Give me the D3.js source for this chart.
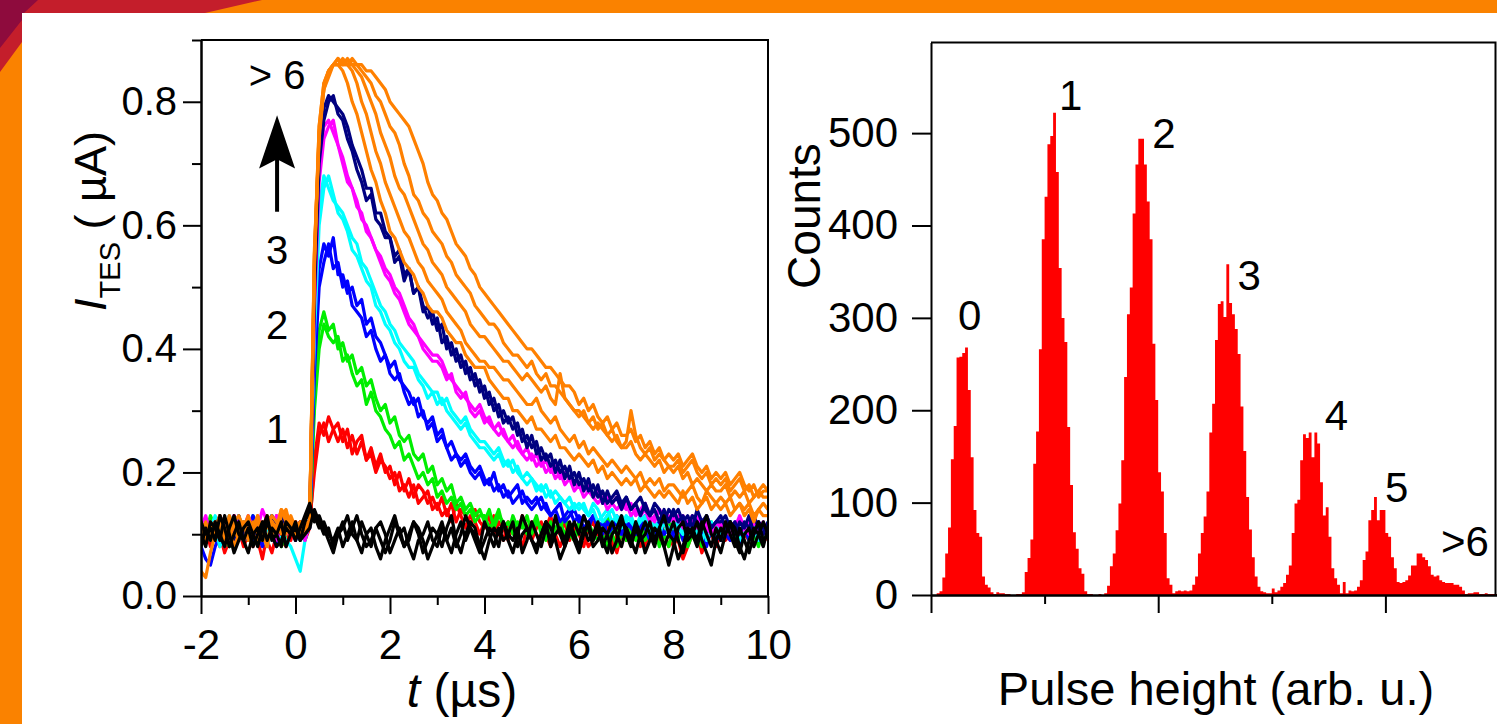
<!DOCTYPE html>
<html>
<head>
<meta charset="utf-8">
<script src="https://cdn.jsdelivr.net/npm/d3@7"></script>
<style>
body { margin: 0; overflow: hidden; background: #fa8200; }
svg { display: block; font-family: "Liberation Sans", Arial, sans-serif; }
</style>
</head>
<body>
<svg id="fig" width="1497" height="724"></svg>
<script>

// ---- left panel: TES current traces, values in 0.01 uA, sampled every 0.1 us from -2 us
var t0 = -2, dt = 0.1;

var traceRed = [
  [9,11,8,12,10,7,9,13,11,8, 10,12,9,6,10,11,13,9,8,11, 10,12,9,11,22,28,26,29,27,25,
   27,24,26,23,25,22,24,21,23,20, 21,18,20,17,19,16,18,17,15,16, 14,16,13,15,12,14,13,11,14,12,
   11,13,10,12,11,9,12,10,13,11, 9,11,12,10,8,11,10,12,9,11, 10,8,11,12,10,9,11,7,10,12,
   9,11,10,8,12,10,9,11,10,8, 11,9,6,8,10,12,9,11,10,8, 10,12,9,11,8,10,12,10,9,11, 10],
  [11,9,12,10,8,11,13,10,9,12, 10,8,11,12,9,7,10,12,11,9, 12,10,11,12,20,26,28,25,27,28,
   25,27,23,25,26,22,23,20,22,21, 19,20,17,18,16,18,15,16,17,14, 15,13,14,12,15,13,11,13,12,10,
   12,11,13,10,9,12,11,10,8,11, 12,10,9,11,13,10,8,10,11,9, 12,10,8,9,11,10,12,9,7,10,
   11,9,12,10,8,11,10,9,12,10, 8,10,11,9,12,10,7,9,11,10, 12,9,10,11,8,10,9,12,10,11, 9]
];

var traceGreen = [
  [10,12,9,11,13,10,8,11,12,9, 11,13,10,9,12,10,11,8,10,12, 11,9,12,11,33,43,46,43,44,40,
   41,38,39,36,37,34,35,32,30,31, 28,29,26,25,26,23,22,23,20,21, 18,19,17,18,15,16,14,15,13,14,
   12,14,11,13,12,10,13,11,12,10, 11,13,10,12,9,11,12,10,11,9, 12,10,11,9,12,10,8,11,10,12,
   9,11,10,12,9,10,11,8,10,12, 10,9,11,8,10,12,11,9,10,11, 9,12,10,11,9,10,12,10,8,11, 10],
  [12,10,13,11,9,12,10,11,13,10, 9,11,12,10,13,11,9,10,12,11, 10,12,11,12,30,40,44,42,41,42,
   38,39,36,34,35,31,33,30,29,27, 26,24,25,22,23,21,19,20,18,19, 16,17,15,16,14,15,13,14,12,13,
   13,11,12,14,11,12,10,12,11,13, 10,12,11,9,12,10,11,13,10,9, 11,10,12,10,9,11,13,10,8,10,
   12,10,9,11,10,12,9,11,10,8, 11,12,10,9,11,10,8,10,12,9, 11,10,12,9,10,11,9,12,10,9, 11]
];

var traceBlue = [
  [8,6,5,8,10,12,9,11,13,10, 9,12,10,8,11,13,10,9,12,11, 10,12,9,12,40,53,57,55,58,52,
   52,49,50,47,48,44,45,42,41,39, 37,38,35,34,33,31,32,29,28,29, 26,27,24,25,23,22,23,21,20,21,
   19,18,20,17,18,16,17,18,15,16, 15,16,14,15,13,14,15,12,13,14, 12,13,11,13,12,10,12,11,13,10,
   11,12,10,11,13,10,9,12,10,11, 10,12,9,11,10,12,10,8,11,10, 9,11,12,10,8,11,10,12,9,11, 10],
  [11,10,12,9,11,8,10,12,9,11, 10,13,11,9,12,10,8,11,10,12, 9,11,12,11,36,50,54,57,53,54,
   50,51,47,46,45,42,43,40,38,39, 36,35,36,33,31,32,29,30,27,28, 25,26,24,22,23,21,22,20,19,20,
   18,19,17,18,16,17,15,16,17,15, 14,15,16,14,13,14,12,13,14,12, 13,11,12,13,11,12,10,11,12,10,
   12,11,10,12,11,9,11,12,10,11, 9,11,12,10,11,9,12,10,11,9, 11,10,9,12,10,11,9,10,12,11, 10]
];

var traceCyan = [
  [10,12,9,11,8,10,13,11,9,12, 11,9,12,10,8,11,12,10,9,8, 6,4,9,12,46,63,68,66,64,63,
   62,60,58,57,54,53,51,49,47,46, 44,43,41,40,39,38,36,35,34,33, 33,31,32,30,29,28,29,27,26,25,
   25,24,23,24,22,21,22,20,19,20, 19,18,17,18,16,17,16,15,16,14, 15,14,13,15,14,12,13,14,12,13,
   12,13,11,12,13,11,12,10,12,11, 11,12,10,11,12,10,9,11,12,10, 11,10,12,9,11,10,12,11,9,10, 11],
  [12,9,11,13,10,9,11,8,10,12, 10,11,9,12,10,13,11,9,10,12, 11,9,10,12,42,60,66,68,65,62,
   61,59,56,55,53,51,50,47,46,44, 43,41,40,38,37,37,35,34,32,33, 31,32,30,29,28,27,28,26,25,24,
   24,23,22,23,21,22,20,21,19,18, 19,17,18,16,17,15,16,15,14,15, 14,15,13,14,12,13,14,12,13,11,
   13,12,11,13,12,10,12,11,12,10, 12,11,10,12,11,10,12,9,11,12, 10,11,12,10,9,11,12,10,11,10, 12]
];

var traceMagenta = [
  [11,13,10,12,9,11,10,13,11,9, 12,10,11,14,12,10,9,11,12,10, 12,11,9,12,50,70,76,77,75,73,
   71,68,66,64,61,60,58,56,55,53, 52,50,49,47,45,44,42,41,40,39, 39,38,36,35,34,33,32,31,30,31,
   29,28,27,28,26,25,26,24,23,24, 22,23,21,22,20,21,19,20,19,18, 18,17,18,16,17,15,16,15,14,15,
   14,15,13,14,15,13,12,14,13,12, 13,12,13,11,12,13,11,12,10,12, 11,12,10,11,13,11,10,12,11,10, 11],
  [10,12,11,9,13,11,12,10,9,11, 13,11,10,12,9,11,13,12,10,11, 10,12,11,12,46,67,74,76,77,73,
   70,67,66,63,62,59,58,56,54,52, 51,49,48,46,44,43,42,40,39,38, 38,37,35,36,33,32,33,30,29,30,
   28,29,27,26,27,25,24,25,23,22, 23,21,22,20,21,19,20,18,19,17, 18,16,17,16,15,16,14,15,16,14,
   15,13,14,13,14,12,13,14,12,13, 12,13,11,12,13,11,12,11,10,12, 12,10,11,12,10,11,12,10,11,12, 10]
];

var traceNavy = [
  [9,11,10,12,10,8,11,12,10,9, 11,12,10,9,12,11,10,13,11,10, 11,10,12,12,52,73,79,81,80,79,
   78,76,73,71,69,66,66,62,62,59, 58,55,56,52,53,49,50,46,47,44, 45,41,42,39,40,37,38,35,36,33,
   34,31,32,29,30,28,29,26,27,24, 26,23,24,22,23,20,22,19,21,18, 20,17,19,16,18,15,17,15,16,14,
   16,14,15,13,15,13,14,12,14,12, 14,12,13,11,13,12,11,13,11,12, 13,11,12,10,12,11,13,10,12,11, 11],
  [12,10,9,11,13,10,12,9,11,10, 12,9,11,10,12,13,11,10,12,11, 9,12,10,11,48,70,77,80,81,78,
   77,74,72,69,67,64,65,61,60,58, 58,54,55,51,53,49,50,47,45,46, 43,44,40,41,38,39,36,37,34,35,
   32,33,30,31,28,29,27,28,25,26, 24,25,22,23,21,22,20,21,19,20, 18,19,17,18,16,17,15,16,17,15,
   16,14,15,16,14,13,15,14,12,14, 13,14,12,13,11,14,12,13,11,12, 12,13,11,12,10,12,11,13,11,10, 12]
];

var traceOrange = [
  [4,3,7,10,12,9,11,8,10,12, 9,11,13,10,8,12,11,14,13,10, 12,11,10,12,55,75,82,85,86,86,
   85,83,80,78,75,72,69,67,64,62, 59,58,56,54,53,52,50,49,47,46, 46,45,43,42,41,41,39,38,37,37,
   37,35,34,33,32,32,30,30,29,28, 29,27,27,26,25,26,24,24,23,22, 23,22,21,22,20,21,19,20,19,18,
   19,18,19,17,18,17,16,17,16,17, 16,15,17,15,16,14,15,16,14,15, 14,15,13,14,15,13,14,12,14,13, 13],
  [11,9,12,10,13,11,9,12,10,11, 13,10,12,11,9,12,10,13,14,11, 10,12,11,12,54,76,83,85,86,87,
   86,86,85,83,80,78,75,72,70,67, 65,63,61,59,58,56,54,53,51,50, 49,48,46,45,44,43,41,40,39,38,
   38,37,37,36,35,35,34,33,32,31, 31,32,30,29,28,29,27,26,25,26, 24,25,23,24,23,22,21,22,21,20,
   21,20,19,20,18,19,18,19,17,18, 18,17,16,17,18,16,15,17,16,15, 16,15,16,14,15,14,15,13,14,15, 14],
  [10,12,9,11,13,10,12,11,9,12, 10,11,13,9,12,10,11,12,10,13, 11,10,12,12,56,74,82,85,86,86,
   87,86,86,85,84,82,80,78,75,73, 71,68,66,65,63,61,59,57,56,54, 53,52,50,49,48,47,46,44,43,42,
   42,41,40,39,38,38,37,36,35,36, 35,34,33,34,32,31,36,32,31,30, 29,30,28,27,28,27,26,25,26,24,
   24,25,23,22,23,22,21,22,20,21, 20,21,19,20,18,19,18,17,18,17, 17,18,16,17,16,17,15,16,17,16, 16],
  [12,10,11,9,12,10,13,11,10,9, 11,12,10,12,11,13,12,10,11,12, 10,12,11,12,53,75,82,84,86,86,
   86,87,86,86,85,84,83,81,80,78, 76,75,73,70,68,65,64,62,61,59, 58,57,55,54,52,51,50,49,47,46,
   45,44,44,43,41,40,39,39,38,37, 38,36,35,36,34,34,33,32,31,30, 30,29,28,29,27,28,26,27,25,24,
   25,30,26,24,23,24,22,23,22,21, 21,22,20,21,22,20,19,20,18,19, 18,19,17,18,19,17,18,16,17,18, 17],
  [9,11,10,12,11,8,10,12,13,11, 12,10,9,11,13,12,11,14,12,10, 12,11,10,12,55,76,83,85,86,87,
   86,86,87,86,86,85,85,84,83,82, 80,79,78,77,76,74,72,70,67,65, 64,62,61,59,57,56,55,53,52,50,
   49,48,47,46,45,44,43,42,41,40, 40,39,38,37,37,36,35,34,34,33, 31,32,30,31,29,28,29,27,28,26,
   26,27,25,26,24,25,23,24,22,23, 22,23,21,22,23,21,20,21,19,20, 19,20,18,19,20,18,17,18,16,17, 17]
];

var traceBlack = [
  [10,8,12,11,9,13,10,7,9,11, 12,10,8,11,13,9,10,12,8,10, 11,9,12,14,13,11,12,10,9,11,
   8,10,12,9,7,10,11,8,6,9, 11,13,10,8,9,12,10,7,9,11, 10,8,11,13,9,7,10,12,11,8,
   6,9,11,10,12,9,7,10,13,11, 9,8,10,12,11,9,6,8,10,12, 10,13,11,8,9,11,10,7,9,12,
   11,9,7,10,12,10,8,11,13,10, 9,6,8,11,10,12,9,7,5,9, 11,10,12,9,7,10,11,8,10,12, 10],
  [12,10,11,9,13,11,8,10,12,9, 7,10,11,9,12,10,8,9,11,10, 12,9,10,11,14,12,10,11,8,10,
   12,9,11,13,10,8,9,11,12,10, 7,9,11,8,10,12,11,9,6,8, 10,12,9,11,8,10,13,11,9,7,
   9,11,10,8,12,10,9,11,7,9, 12,10,8,11,9,13,10,8,11,9, 7,10,12,9,11,8,10,12,10,8,
   11,9,12,10,7,9,11,10,8,5, 8,11,12,9,10,8,11,13,10,9, 7,10,12,11,8,6,9,11,10,8, 11],
  [8,11,9,12,10,8,11,13,10,9, 11,8,10,12,9,11,10,8,12,11, 9,11,13,15,12,13,11,9,7,10,
   11,13,10,9,12,10,8,11,9,7, 9,12,10,11,8,6,9,10,12,9, 8,11,9,7,10,12,9,11,10,8,
   12,10,8,11,9,10,12,8,10,11, 9,7,10,12,8,10,11,9,12,10, 8,11,9,10,12,9,7,10,11,13,
   10,8,11,9,10,12,9,11,8,10, 12,9,7,10,11,9,12,10,8,11, 9,12,10,8,11,9,7,10,12,9, 10]
];

var traceColors = ["#ff0000", "#00ee00", "#0000ff", "#00ffff", "#ff00ff", "#000080", "#ff8000", "#000000"];
var traceGroups = [traceRed, traceGreen, traceBlue, traceCyan, traceMagenta, traceNavy, traceOrange, traceBlack];

// ---- right panel: pulse-height histogram, bins of 0.025 arb. u. starting at 0
var binWidth = 0.025;
var counts = [
  0,0,2,4,19,45,73,147,183,257, 258,262,268,222,149,92,67,63,20,11,
  8,3,1,3,2,2,1,1,0,0, 1,1,3,25,40,60,142,177,266,385,
  431,488,497,522,458,354,300,274,182,119, 68,50,29,23,4,1,1,0,0,1,
  0,2,10,31,45,70,99,146,236,304, 333,413,466,494,494,466,426,385,272,211,
  133,112,67,18,11,2,4,5,4,5, 4,5,11,20,45,67,85,112,176,207,
  276,315,318,301,358,316,304,288,261,204, 156,106,71,41,20,9,4,3,2,2,
  7,3,5,9,13,22,32,67,99,103, 146,174,170,176,149,176,164,122,86,95,
  63,29,18,11,2,14,2,5,4,5, 9,16,38,47,81,92,106,81,92,92,
  67,63,41,29,14,13,14,16,21,32, 32,45,45,41,38,31,22,20,21,16,
  14,13,13,13,11,11,9,5,1,2, 2,3,3,1,1,2,1,1,1,1
];

var leftLabels = [["> 6", -0.39, 0.843], ["3", -0.39, 0.56], ["2", -0.39, 0.439], ["1", -0.39, 0.27]];
var peakLabels = [["0", 0.34, 303], ["1", 1.23, 541], ["2", 2.05, 500], ["3", 2.8, 346],
                  ["4", 3.57, 195], ["5", 4.1, 117], [">6", 4.7, 58]];

var svg = d3.select("#fig");

// background: orange with dark corner, white panel
svg.append("rect").attr("width", 1497).attr("height", 724).attr("fill", "#fa8200");
svg.append("polygon").attr("points", "0,0 262,0 205,13 22,13 22,42 0,72").attr("fill", "#c41e2b");
svg.append("polygon").attr("points", "0,0 38,0 24,13 22,13 22,20 0,48").attr("fill", "#8e0b3d");
svg.append("rect").attr("x", 22).attr("y", 13).attr("width", 1475).attr("height", 711).attr("fill", "#fff");

function styleAxis(g, size) {
  g.attr("font-family", null).attr("font-size", null);
  g.selectAll("line").attr("stroke", "#000").attr("stroke-width", 2);
  g.selectAll("path").attr("stroke", "#000").attr("stroke-width", 2);
  g.selectAll("text").attr("fill", "#000").style("font-size", size + "px");
}

// ================= left panel =================
var x = d3.scaleLinear().domain([-2, 10]).range([201, 768]);
var y = d3.scaleLinear().domain([0, 0.9]).range([596, 40]);

svg.append("clipPath").attr("id", "clipL")
  .append("rect").attr("x", x(-2)).attr("y", y(0.9)).attr("width", x(10) - x(-2)).attr("height", y(0) - y(0.9));

var line = d3.line()
  .x(function (d, i) { return x(t0 + i * dt); })
  .y(function (d) { return y(d / 100); });

var traces = svg.append("g").attr("clip-path", "url(#clipL)");
traceGroups.forEach(function (group, k) {
  traces.selectAll(null)
    .data(group)
    .enter().append("path")
    .attr("d", line)
    .attr("fill", "none")
    .attr("stroke", traceColors[k])
    .attr("stroke-width", 3.2)
    .attr("stroke-linejoin", "round");
});

// frame
svg.append("path")
  .attr("d", "M" + x(-2) + "," + y(0.9) + "H" + x(10) + "V" + y(0))
  .attr("fill", "none").attr("stroke", "#000").attr("stroke-width", 2);

var yMinor = svg.append("g").attr("transform", "translate(" + x(-2) + ",0)")
  .call(d3.axisLeft(y).tickValues([0.1, 0.3, 0.5, 0.7, 0.9]).tickSize(9).tickSizeOuter(0).tickFormat(""));
styleAxis(yMinor, 40);
var yMajor = svg.append("g").attr("transform", "translate(" + x(-2) + ",0)")
  .call(d3.axisLeft(y).tickValues([0, 0.2, 0.4, 0.6, 0.8]).tickSize(18).tickSizeOuter(0).tickPadding(6)
    .tickFormat(d3.format(".1f")));
styleAxis(yMajor, 40);

var xMinor = svg.append("g").attr("transform", "translate(0," + y(0) + ")")
  .call(d3.axisBottom(x).tickValues([-1, 1, 3, 5, 7, 9]).tickSize(9).tickSizeOuter(0).tickFormat(""));
styleAxis(xMinor, 42);
var xMajor = svg.append("g").attr("transform", "translate(0," + y(0) + ")")
  .call(d3.axisBottom(x).tickValues([-2, 0, 2, 4, 6, 8, 10]).tickSize(18).tickSizeOuter(0).tickPadding(15)
    .tickFormat(d3.format("d")));
styleAxis(xMajor, 42);
xMajor.selectAll("text").text(function (d) { return d < 0 ? "-" + Math.abs(d) : d; });

// labels
var yl = svg.append("text")
  .attr("transform", "translate(106,221) rotate(-90)")
  .attr("text-anchor", "middle")
  .style("font-size", "45px");
yl.append("tspan").attr("font-style", "italic").text("I");
yl.append("tspan").attr("dy", 14).style("font-size", "29px").text("TES");
yl.append("tspan").attr("dy", -14).text(" ( µA)");

var xl = svg.append("text")
  .attr("x", 462).attr("y", 707)
  .attr("text-anchor", "middle")
  .style("font-size", "48px");
xl.append("tspan").attr("font-style", "italic").text("t");
xl.append("tspan").text(" (µs)");

svg.append("g").selectAll("text")
  .data(leftLabels)
  .enter().append("text")
  .attr("x", function (d) { return x(d[1]); })
  .attr("y", function (d) { return y(d[2]); })
  .attr("dy", "0.35em")
  .attr("text-anchor", "middle")
  .style("font-size", "40px")
  .text(function (d) { return d[0]; });

// arrow
var ax = x(-0.39);
svg.append("line")
  .attr("x1", ax).attr("x2", ax).attr("y1", y(0.622)).attr("y2", y(0.72))
  .attr("stroke", "#000").attr("stroke-width", 4);
svg.append("path")
  .attr("d", "M" + ax + "," + y(0.778) + "L" + (ax + 18) + "," + y(0.692) + "L" + ax + "," + y(0.707) +
    "L" + (ax - 18) + "," + y(0.692) + "Z")
  .attr("fill", "#000");

// ================= right panel =================
var xh = d3.scaleLinear().domain([0, 5]).range([931, 1499]);
var yh = d3.scaleLinear().domain([0, 598]).range([595, 42.6]);

var histArea = d3.area()
  .curve(d3.curveStepAfter)
  .x(function (d, i) { return xh(i * binWidth); })
  .y0(yh(0))
  .y1(function (d) { return yh(d); });

svg.append("path")
  .datum(counts.concat([counts[counts.length - 1]]))
  .attr("d", histArea)
  .attr("fill", "#ff0000");

svg.append("path")
  .attr("d", "M" + xh(0) + "," + yh(598) + "H1495.5V" + yh(0))
  .attr("fill", "none").attr("stroke", "#000").attr("stroke-width", 2);

var hy = svg.append("g").attr("transform", "translate(" + xh(0) + ",0)")
  .call(d3.axisLeft(yh).tickValues([0, 100, 200, 300, 400, 500]).tickSize(19).tickSizeOuter(0).tickPadding(14));
styleAxis(hy, 42);

var hxMinor = svg.append("g").attr("transform", "translate(0," + yh(0) + ")")
  .call(d3.axisBottom(xh).tickValues([1, 3, 5]).tickSize(9).tickSizeOuter(0).tickFormat(""));
styleAxis(hxMinor, 42);
var hxMajor = svg.append("g").attr("transform", "translate(0," + yh(0) + ")")
  .call(d3.axisBottom(xh).tickValues([0, 2, 4]).tickSize(18).tickSizeOuter(0).tickFormat(""));
styleAxis(hxMajor, 42);

svg.append("g").selectAll("text")
  .data(peakLabels)
  .enter().append("text")
  .attr("x", function (d) { return xh(d[1]); })
  .attr("y", function (d) { return yh(d[2]); })
  .attr("dy", "0.35em")
  .attr("text-anchor", "middle")
  .style("font-size", "42px")
  .text(function (d) { return d[0]; });

svg.append("text")
  .attr("transform", "translate(820,216) rotate(-90)")
  .attr("text-anchor", "middle")
  .style("font-size", "46px")
  .text("Counts");

svg.append("text")
  .attr("x", 1216).attr("y", 705)
  .attr("text-anchor", "middle")
  .style("font-size", "47px")
  .text("Pulse height (arb. u.)");

</script>
</body>
</html>
